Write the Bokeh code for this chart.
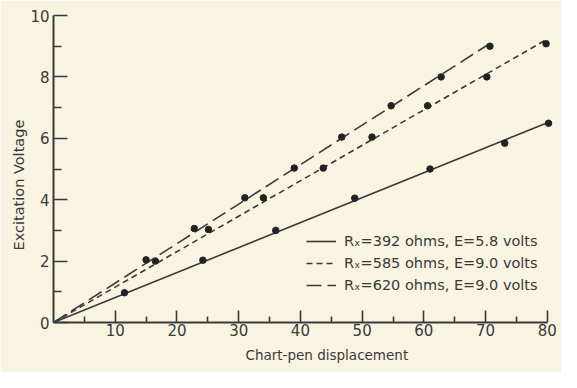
import numpy as np
from bokeh.plotting import figure
from bokeh.models import (Range1d, FixedTicker, Title, Legend, LegendItem)
from bokeh.embed import file_html
from bokeh.resources import INLINE

# ---- data ----
x_392 = [11.5, 24.2, 36.0, 48.8, 61.0, 73.1, 80.2]
y_392 = [0.97, 2.03, 3.0, 4.05, 5.0, 5.84, 6.49]
x_585 = [16.5, 25.1, 34.0, 43.7, 51.6, 60.6, 70.2, 79.8]
y_585 = [2.0, 3.03, 4.06, 5.03, 6.04, 7.06, 8.0, 9.08]
x_620 = [15.0, 22.8, 31.0, 39.0, 46.7, 54.7, 62.8, 70.7]
y_620 = [2.04, 3.06, 4.06, 5.03, 6.04, 7.06, 8.0, 9.0]

labels = ["Rₓ=392 ohms, E=5.8 volts",
          "Rₓ=585 ohms, E=9.0 volts",
          "Rₓ=620 ohms, E=9.0 volts"]
x_ticks = [10, 20, 30, 40, 50, 60, 70, 80]
x_minor = [5, 15, 25, 35, 45, 55, 65, 75]
y_ticks = [0, 2, 4, 6, 8, 10]
y_minor = [1, 3, 5, 7, 9]
x_title = "Chart-pen displacement"
y_title = "Excitation  Voltage"

INK = "#3a3a3a"
BG = "#f8f4e1"
FONT = "DejaVu Sans"

p = figure(width=561, height=372, output_backend="svg", toolbar_location=None,
           x_range=Range1d(0, 81), y_range=Range1d(0, 10),
           frame_width=500, frame_height=307,
           min_border_left=53, min_border_right=8, min_border_top=15,
           min_border_bottom=50)
p.background_fill_color = BG
p.border_fill_color = BG
p.outline_line_color = None
p.grid.visible = False

dashes = ["solid", "6 4", "15 6"]
series = [(x_392, y_392), (x_585, y_585), (x_620, y_620)]
items = []
for (xs, ys), dash, lab in zip(series, dashes, labels):
    xs_a = np.array(xs); ys_a = np.array(ys)
    slope = float((xs_a * ys_a).sum() / (xs_a * xs_a).sum())
    xe = float(xs_a.max())
    r = p.line([0, xe], [0, slope * xe], line_color=INK, line_width=1.6,
               line_dash=dash)
    p.scatter(xs, ys, size=6.5, fill_color="#222222", line_color="#222222")
    items.append(LegendItem(label=lab, renderers=[r]))

legend = Legend(items=items, location=(253, 26), padding=0, margin=0,
                spacing=0, glyph_width=30, glyph_height=22, label_height=22,
                label_standoff=8, label_text_font=FONT,
                label_text_font_size="14.5px", label_text_color=INK,
                background_fill_alpha=0, border_line_color=None)
p.add_layout(legend)

for ax in (p.xaxis[0], p.yaxis[0]):
    ax.axis_line_color = INK
    ax.axis_line_width = 2
    ax.major_tick_line_color = INK
    ax.minor_tick_line_color = INK
    ax.major_tick_line_width = 1.6
    ax.minor_tick_line_width = 1.6
    ax.major_tick_out = 0
    ax.minor_tick_out = 0
    ax.major_label_text_font = FONT
    ax.major_label_text_font_size = "15px"
    ax.major_label_text_color = INK

p.xaxis.ticker = FixedTicker(ticks=x_ticks, minor_ticks=x_minor)
p.yaxis.ticker = FixedTicker(ticks=y_ticks, minor_ticks=y_minor)
p.xaxis.bounds = (0, 80)
p.yaxis.bounds = (0, 10)
p.xaxis.major_tick_in = 12
p.xaxis.minor_tick_in = 6
p.yaxis.major_tick_in = 14
p.yaxis.minor_tick_in = 8
p.xaxis.major_label_standoff = 1
p.yaxis.major_label_standoff = 4

p.add_layout(Title(text=x_title, align="left", offset=192, standoff=12,
                   text_font=FONT, text_font_size="13.5px",
                   text_font_style="normal", text_color=INK), "below")
p.add_layout(Title(text=y_title, align="left", offset=72, standoff=2,
                   text_font=FONT, text_font_size="14.5px",
                   text_font_style="normal", text_color=INK), "left")

open("out.html", "w").write(file_html(p, INLINE))
